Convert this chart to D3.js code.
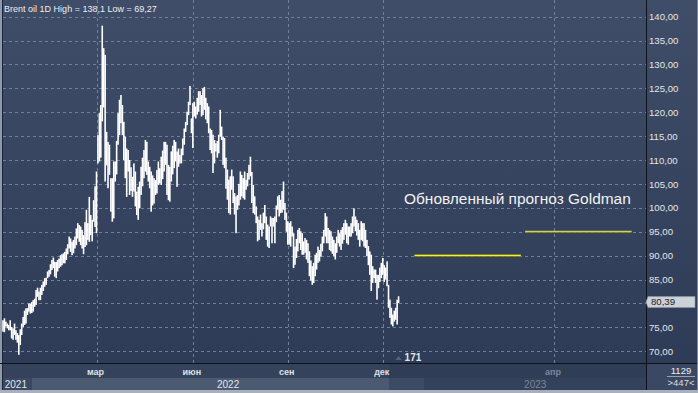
<!DOCTYPE html>
<html>
<head>
<meta charset="utf-8">
<script src="https://cdn.jsdelivr.net/npm/d3@7"></script>
<style>
  body { margin: 0; background: #2d3b56; }
  svg { display: block; font-family: "Liberation Sans", Arial, sans-serif; }
</style>
</head>
<body>
<div id="brent-chart-div"></div>
<script>
// daily bars [high, low], one array per stretch between month grid lines
var barsDec2021 = [[76.5,74.1],[76.9,74.0],[76.2,75.2],[75.8,74.8],[75.5,74.4],[76.5,74.4],[75.1,72.7],[74.8,72.4],[75.8,73.4],[74.4,72.4],
  [73.8,71.8],[73.4,69.27],[74.6,71.3],[75.8,73.4],[77.2,75.1],[78.5,75.5],[79.0,75.8],[79.0,77.6],[80.0,78.3],[80.0,77.9]];

var barsJanFeb2022 = [[80.3,78.0],[80.7,78.3],[81.0,79.3],[82.8,79.7],[83.3,81.4],[82.5,80.7],[83.3,80.7],[83.9,81.8],[84.6,82.6],[85.3,83.5],
  [85.4,83.9],[86.7,85.3],[87.0,85.6],[88.2,86.1],[89.1,87.0],[89.6,87.4],[88.7,85.6],[88.7,85.3],[89.1,86.7],[89.4,87.4],
  [90.1,87.7],[90.3,88.0],[90.5,88.4],[90.8,88.4],[91.5,89.1],[92.4,90.3],[94.0,91.5],[93.6,90.8],[92.9,90.1],[93.3,90.5],
  [94.0,91.5],[95.7,92.2],[96.8,93.6],[96.4,92.9],[96.1,92.2],[95.4,91.5],[94.3,90.3],[97.0,91.8],[99.6,92.2],[96.8,93.3],
  [102.3,92.9],[98.5,94.3],[97.5,93.0],[101.6,97.1],[104.5,96.0]];

var barsMarMay2022 = [[107.6,94.7],[115.2,109.3],[119.8,109.7],[121.5,110.5],[138.1,118.1],[133.4,121.0],[132.0,105.5],[115.9,108.9],[113.8,104.1],[113.2,106.9],
  [106.2,99.2],[106.2,97.1],[109.7,97.8],[109.7,105.5],[114.0,107.0],[119.8,113.2],[122.6,115.2],[123.6,117.7],[121.5,115.2],[118.0,110.0],
  [114.9,106.2],[112.4,102.3],[112.1,107.6],[110.0,102.7],[108.5,103.5],[106.5,102.3],[109.3,103.4],[107.6,100.3],[103.4,98.5],[104.4,97.5],
  [105.5,99.9],[108.6,102.7],[110.5,104.5],[112.1,106.2],[114.2,107.6],[113.8,106.9],[109.7,105.5],[108.6,104.1],[107.6,99.2],[106.8,100.5],
  [106.2,100.9],[105.8,102.7],[107.9,103.0],[109.7,104.8],[108.3,105.1],[110.7,104.8],[112.0,106.0],[113.8,107.6],[113.8,109.0],[113.2,102.7],
  [109.0,101.6],[108.6,101.3],[111.8,105.5],[113.0,107.0],[114.2,108.3],[113.8,109.7],[111.8,104.4],[112.4,108.6],[111.1,109.3],[112.4,109.3],
  [114.5,111.0],[116.6,113.2],[118.0,115.9],[120.1,117.3],[122.2,119.4],[125.5,121.5],[118.7,115.6]];

var barsJunAug2022 = [[121.9,112.5],[122.2,119.1],[121.2,118.7],[123.0,119.5],[124.4,120.1],[124.4,121.5],[123.6,119.1],[125.0,119.4],[125.3,120.5],[123.0,118.5],
  [121.9,117.7],[121.2,115.6],[116.6,112.1],[116.3,111.4],[115.3,107.3],[114.2,109.3],[113.5,111.8],[114.0,110.5],[115.3,111.4],[120.5,114.9],
  [117.0,114.2],[114.9,109.0],[114.6,108.3],[110.5,104.0],[108.0,101.7],[105.9,98.9],[106.6,98.6],[108.0,103.8],[106.6,101.0],[103.1,98.6],
  [102.4,94.7],[102.7,99.6],[105.0,100.5],[107.6,101.7],[106.9,102.4],[106.2,102.0],[107.6,101.7],[105.9,103.8],[107.3,104.5],[109.0,105.9],
  [110.7,106.6],[107.5,101.0],[104.8,98.9],[102.4,98.6],[100.3,96.8],[98.2,93.0],[97.5,93.3],[98.6,95.4],[96.8,94.0],[99.0,95.5],
  [100.6,96.8],[98.2,93.3],[96.5,91.9],[96.1,91.6],[98.2,96.1],[97.9,92.6],[97.9,96.1],[98.2,92.6],[100.5,97.0],[102.4,99.6],
  [102.7,98.2],[101.7,98.9],[103.5,99.0],[105.5,99.6],[101.0,97.5],[99.0,95.0]];

var barsSepNov2022 = [[97.2,92.3],[96.8,92.3],[97.2,91.9],[96.1,94.0],[94.7,87.4],[91.9,88.1],[93.5,89.5],[95.4,90.9],[95.8,92.6],[95.1,91.2],
  [94.7,90.2],[93.0,90.2],[93.7,90.6],[93.3,89.2],[92.6,88.5],[90.9,85.7],[89.0,84.8],[87.8,83.9],[88.5,84.3],[90.2,85.7],
  [90.6,87.1],[91.9,88.5],[91.2,88.8],[92.5,89.8],[94.0,90.9],[95.4,92.6],[98.9,94.0],[98.2,92.6],[95.8,92.6],[95.4,91.2],
  [95.1,90.9],[94.0,90.4],[93.3,89.9],[92.6,89.2],[94.0,90.6],[95.4,92.6],[94.7,91.9],[95.4,91.2],[96.0,92.5],[96.8,93.3],
  [97.5,94.4],[96.8,92.6],[96.1,92.3],[96.1,94.0],[96.8,94.0],[98.2,94.7],[99.9,96.1],[98.2,95.1],[97.5,94.2],[96.8,93.3],
  [95.4,91.9],[97.2,93.3],[96.8,93.0],[96.8,91.9],[95.4,91.6],[93.3,89.9],[92.0,88.0],[90.9,86.0],[90.2,82.6],[87.8,84.3],
  [87.1,85.3],[87.1,84.3],[86.0,80.8],[86.0,83.2],[87.5,84.5],[88.5,85.3]];

var barsDec2022 = [[89.5,86.0],[88.0,84.5],[87.5,85.0],[88.8,83.6],[83.9,79.1],[80.8,77.0],[79.1,75.6],[77.7,75.2],[78.5,76.2],[79.1,76.6],
  [80.8,75.6],[81.5,80.1]];

var lastClose = 80.39;
var priceTicks = [70, 75, 80, 85, 90, 95, 100, 105, 110, 115, 120, 125, 130, 135, 140];
var monthLabels = ["мар", "июн", "сен", "дек"];      // first bar of segments 2..5
var yearLabels = ["2021", "2022", "2023"];
var futureDays = 171;                                // empty calendar days after the last bar
var newYearDay = 18;                                 // 1 Jan 2023, days after the last bar
var futureMonths = [{ label: "апр", day: 108 }];
var forecastValues = [90, 95];                       // Goldman forecast, $
var forecastDays = [[11, 85], [88, 162]];            // days after the last bar
var headerName = "Brent oil 1D";
var forecastTitle = "Обновленный прогноз Goldman";
var barCountLabel = "171";
var cornerTop = "1129", cornerBottom = ">447<";

var width = 698, height = 393;
var plotLeft = 3, plotRight = 646, plotBottom = 363;

var segments = [barsDec2021, barsJanFeb2022, barsMarMay2022, barsJunAug2022, barsSepNov2022, barsDec2022];
var bars = [];
var segStart = [];
segments.forEach(function (s) {
  segStart.push(bars.length);
  s.forEach(function (b) { bars.push({ i: bars.length, high: b[0], low: b[1] }); });
});
var lastIndex = bars.length - 1;

var ru = d3.formatLocale({ decimal: ",", thousands: " ", grouping: [3], currency: ["", ""] });
var fmtAxis = ru.format(".2f");
var fmtShort = ru.format(".2~f");

var svg = d3.select("#brent-chart-div")
  .append("svg")
    .attr("width", width)
    .attr("height", height);

var grad = svg.append("defs").append("linearGradient")
  .attr("id", "bg-grad")
  .attr("x1", 0).attr("y1", 0).attr("x2", 0).attr("y2", 1);
grad.append("stop").attr("offset", "0%").attr("stop-color", "#3f4d68");
grad.append("stop").attr("offset", "100%").attr("stop-color", "#2c3a55");

// scales: one unit = one bar (or one calendar day in the empty future part)
var x = d3.scaleLinear()
  .domain([0, lastIndex + futureDays + 1])
  .range([plotLeft, plotRight]);

var y = d3.scaleLinear()
  .domain([70, 140])
  .range([351.3, 16.6]);

svg.append("rect")
  .attr("width", width).attr("height", height)
  .attr("fill", "url(#bg-grad)");

// left border
svg.append("rect").attr("x", 0).attr("y", 0).attr("width", 2).attr("height", 390).attr("fill", "#8d99ad");
svg.append("rect").attr("x", 2).attr("y", 0).attr("width", 1).attr("height", 390).attr("fill", "#1e2536");

// grid
var gridX = monthLabels.map(function (m, k) { return { label: m, x: x(segStart[k + 2]), dim: false }; })
  .concat(futureMonths.map(function (m) { return { label: m.label, x: x(lastIndex + m.day), dim: true }; }));

svg.append("g")
  .selectAll("line")
  .data(priceTicks)
  .enter()
    .append("line")
    .attr("x1", plotLeft).attr("x2", plotRight)
    .attr("y1", function (d) { return Math.round(y(d)) + 0.5; })
    .attr("y2", function (d) { return Math.round(y(d)) + 0.5; })
    .attr("stroke", "#6f809d")
    .attr("stroke-dasharray", "3,3");

svg.append("g")
  .selectAll("line")
  .data(gridX)
  .enter()
    .append("line")
    .attr("x1", function (d) { return Math.round(d.x) + 0.5; })
    .attr("x2", function (d) { return Math.round(d.x) + 0.5; })
    .attr("y1", 0).attr("y2", plotBottom)
    .attr("stroke", "#6f809d")
    .attr("stroke-dasharray", "3,3");

// the bars
svg.append("g")
  .attr("fill", "#ffffff")
  .selectAll("rect")
  .data(bars)
  .enter()
    .append("rect")
    .attr("x", function (d) { return x(d.i) - 0.8; })
    .attr("y", function (d) { return y(d.high); })
    .attr("width", 1.6)
    .attr("height", function (d) { return Math.max(1, y(d.low) - y(d.high)); });

// forecast lines
var fc = forecastValues.map(function (v, k) { return { v: v, d0: forecastDays[k][0], d1: forecastDays[k][1] }; });
svg.append("g").selectAll("rect").data(fc).enter()
  .append("rect")
  .attr("x", function (d) { return x(lastIndex + d.d0); })
  .attr("y", function (d) { return y(d.v) + 0.5; })
  .attr("width", function (d) { return x(lastIndex + d.d1) - x(lastIndex + d.d0); })
  .attr("height", 1.2)
  .attr("fill", "#4d4d1c");
svg.append("g").selectAll("rect").data(fc).enter()
  .append("rect")
  .attr("x", function (d) { return x(lastIndex + d.d0); })
  .attr("y", function (d) { return y(d.v) - 1; })
  .attr("width", function (d) { return x(lastIndex + d.d1) - x(lastIndex + d.d0); })
  .attr("height", 1.6)
  .attr("fill", function (d, k) { return k === 0 ? "#f2f226" : "#cfd35a"; });

function fitWidth(sel, w) {
  var len = sel.node().getComputedTextLength();
  sel.attr("font-size", parseFloat(sel.attr("font-size")) * w / len);
}

var title = svg.append("text")
  .attr("x", 404).attr("y", 203.5)
  .attr("font-size", 16)
  .attr("fill", "#f2f2f2")
  .text(forecastTitle);
fitWidth(title, 227);

var maxHigh = d3.max(bars, function (d) { return d.high; });
var minLow = d3.min(bars, function (d) { return d.low; });
var header = svg.append("text")
  .attr("x", 4).attr("y", 11.5)
  .attr("font-size", 11)
  .attr("fill", "#eeeeee")
  .text(headerName + " High = " + fmtShort(maxHigh) + " Low = " + fmtShort(minLow));
fitWidth(header, 153);

// bar count marker
svg.append("path")
  .attr("d", "M" + (x(lastIndex) - 3) + ",360 l3,-4 l3,4 z")
  .attr("fill", "#56627a");
svg.append("text")
  .attr("x", x(lastIndex) + 6).attr("y", 361)
  .attr("font-size", 10).attr("font-weight", "bold")
  .attr("fill", "#e6e6e6")
  .text(barCountLabel);

// bottom time axis
var xNewYear22 = x(segStart[1]);
var xFuture = x(lastIndex) - 9;
var xNewYear23 = x(lastIndex + newYearDay);

svg.append("rect").attr("x", 3).attr("y", 364).attr("width", xFuture - 3).attr("height", 14).attr("fill", "#34425b");
svg.append("rect").attr("x", xFuture).attr("y", 364).attr("width", plotRight - xFuture).attr("height", 14).attr("fill", "#2f3d56");
svg.append("rect").attr("x", 3).attr("y", 378).attr("width", xNewYear22 - 3).attr("height", 12).attr("fill", "#3a4862");
svg.append("rect").attr("x", xNewYear22).attr("y", 378).attr("width", xFuture - xNewYear22).attr("height", 12).attr("fill", "#4b5971");
svg.append("rect").attr("x", xFuture).attr("y", 378).attr("width", xNewYear23 - xFuture).attr("height", 12).attr("fill", "#3c4a63");
svg.append("rect").attr("x", xNewYear23).attr("y", 378).attr("width", plotRight - xNewYear23).attr("height", 12).attr("fill", "#33415a");
svg.append("rect").attr("x", 0).attr("y", 390).attr("width", width).attr("height", 3).attr("fill", "#a8b0bd");

svg.append("g")
  .selectAll("text")
  .data(gridX)
  .enter()
    .append("text")
    .attr("x", function (d) { return d.x - 1; })
    .attr("y", 375)
    .attr("text-anchor", "middle")
    .attr("font-size", 9).attr("font-weight", "bold")
    .attr("fill", function (d) { return d.dim ? "#7c8699" : "#dde1e8"; })
    .text(function (d) { return d.label; });

var yearCells = [
  { label: yearLabels[0], x0: 0, x1: xNewYear22, dim: false },
  { label: yearLabels[1], x0: xNewYear22, x1: xNewYear23, dim: false },
  { label: yearLabels[2], x0: xNewYear23, x1: plotRight, dim: true }];
svg.append("g")
  .selectAll("text")
  .data(yearCells)
  .enter()
    .append("text")
    .attr("x", function (d) { return (d.x0 + d.x1) / 2; })
    .attr("y", 388)
    .attr("text-anchor", "middle")
    .attr("font-size", 10)
    .attr("fill", function (d) { return d.dim ? "#7c8699" : "#e2e5ea"; })
    .text(function (d) { return d.label; });

// frame lines
svg.append("line").attr("x1", 0).attr("x2", width).attr("y1", plotBottom + 0.5).attr("y2", plotBottom + 0.5).attr("stroke", "#0f1218");
svg.append("line").attr("x1", plotRight + 0.5).attr("x2", plotRight + 0.5).attr("y1", 0).attr("y2", 390).attr("stroke", "#0f1218");
svg.append("rect").attr("x", 697).attr("y", 0).attr("width", 1).attr("height", 390).attr("fill", "#7d889c");

// right price axis; the tick hidden under the last price label is left out
var yLast = y(lastClose);
svg.append("g")
  .attr("transform", "translate(" + plotRight + ",0)")
  .attr("class", "price-axis")
  .call(d3.axisRight(y)
    .tickValues(priceTicks.filter(function (d) { return Math.abs(y(d) - yLast) > 9; }))
    .tickSize(0)
    .tickPadding(3)
    .tickFormat(function (d) { return fmtAxis(d); }))
  .call(function (g) { g.select(".domain").remove(); })
  .selectAll("text")
    .attr("fill", "#e6e6e6")
    .attr("font-family", "Liberation Sans, Arial, sans-serif")
    .attr("font-size", 9.6);

// last price label
svg.append("path")
  .attr("d", "M648," + (yLast - 5) + " h47 v11 h-47 l-2,-5.5 z")
  .attr("fill", "#cdd1d8")
  .attr("stroke", "#8e96a6")
  .attr("stroke-width", 0.6);
svg.append("text")
  .attr("x", 651).attr("y", yLast + 3.5)
  .attr("font-size", 9.6)
  .attr("fill", "#1b1f28")
  .text(fmtShort(lastClose));

// bottom right corner cell
svg.append("rect").attr("x", plotRight + 1).attr("y", 364).attr("width", 50).attr("height", 26).attr("fill", "#3a4863");
svg.append("text")
  .attr("x", 681).attr("y", 373.5)
  .attr("text-anchor", "middle")
  .attr("font-size", 9.5).attr("fill", "#eeeeee")
  .text(cornerTop);
svg.append("line").attr("x1", 667).attr("x2", 695).attr("y1", 376.5).attr("y2", 376.5).attr("stroke", "#9aa3b3");
svg.append("text")
  .attr("x", 681).attr("y", 386)
  .attr("text-anchor", "middle")
  .attr("font-size", 9.5).attr("fill", "#dddddd")
  .text(cornerBottom);
</script>
</body>
</html>
